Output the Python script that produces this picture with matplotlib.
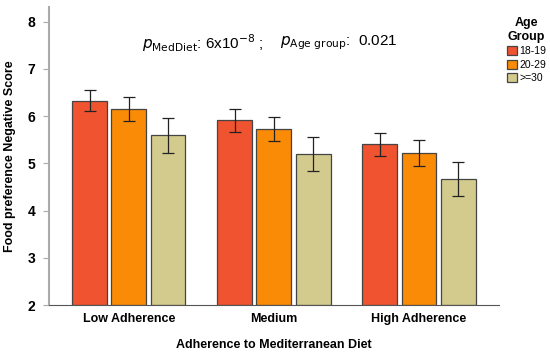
import matplotlib
matplotlib.use("Agg")
import matplotlib.pyplot as plt
import numpy as np

categorias = ["Low Adherence", "Medium", "High Adherence"]
grupos = ["18-19", "20-29", ">=30"]
medias = {
    "18-19": [6.33, 5.91, 5.40],
    "20-29": [6.15, 5.73, 5.22],
    ">=30": [5.60, 5.19, 4.67],
}
errores = {
    "18-19": [0.23, 0.24, 0.24],
    "20-29": [0.25, 0.26, 0.27],
    ">=30": [0.37, 0.36, 0.36],
}
colores = {"18-19": "#F0532F", "20-29": "#F98B06", ">=30": "#D3CB8E"}

plt.rcParams['font.family'] = ['Liberation Sans', 'DejaVu Sans']

fig = plt.figure(figsize=(5.5, 3.56), dpi=100)
ax = fig.add_axes([0.089, 0.143, 0.818, 0.836])

x = np.arange(len(categorias))
ancho = 0.24
paso = 0.27
for i, g in enumerate(grupos):
    pos = x + (i - 1) * paso
    ax.bar(pos, np.array(medias[g]) - 2, bottom=2, width=ancho, color=colores[g],
           edgecolor="#444444", linewidth=0.9, label=g, zorder=2)
    ax.errorbar(pos, medias[g], yerr=errores[g], fmt="none", ecolor="#222222",
                elinewidth=0.9, capsize=4, capthick=0.9, zorder=3)

ax.set_xlim(-0.55, 2.55)
ax.set_ylim(2, 8.3)
ax.set_yticks([2, 3, 4, 5, 6, 7, 8])
ax.set_xticks(x)
ax.set_xticklabels(categorias, fontsize=9, fontweight="bold")
ax.tick_params(axis="x", length=0, pad=6)
ax.tick_params(axis="y", length=4, color="#aaaaaa", labelsize=10, pad=6)
for lab in ax.get_yticklabels():
    lab.set_fontweight("bold")
ax.spines["top"].set_visible(False)
ax.spines["right"].set_visible(False)
ax.spines["left"].set_color("#aaaaaa")
ax.spines["left"].set_linewidth(1.5)
ax.spines["bottom"].set_color("#555555")

ax.set_ylabel("Food preference Negative Score", fontsize=9, fontweight="bold", labelpad=8)
ax.set_xlabel("Adherence to Mediterranean Diet", fontsize=9, fontweight="bold", labelpad=10)

fig.text(0.258, 0.88, r"$p_{\mathrm{MedDiet}}$: 6x10$^{-8}$ ;", fontsize=11, va="center")
fig.text(0.51, 0.88, r"$p_{\mathrm{Age\ group}}$:  0.021", fontsize=11, va="center")

leg = fig.legend(loc="upper left", bbox_to_anchor=(0.906, 0.975), frameon=False,
                 title="Age\nGroup", fontsize=7.5, handlelength=1.0, handleheight=1.0,
                 handletextpad=0.2, labelspacing=0.3, borderpad=0.3)
leg.get_title().set_fontweight("bold")
leg.get_title().set_fontsize(9)
leg.get_title().set_multialignment("center")

fig.savefig("out.png", dpi=100)
